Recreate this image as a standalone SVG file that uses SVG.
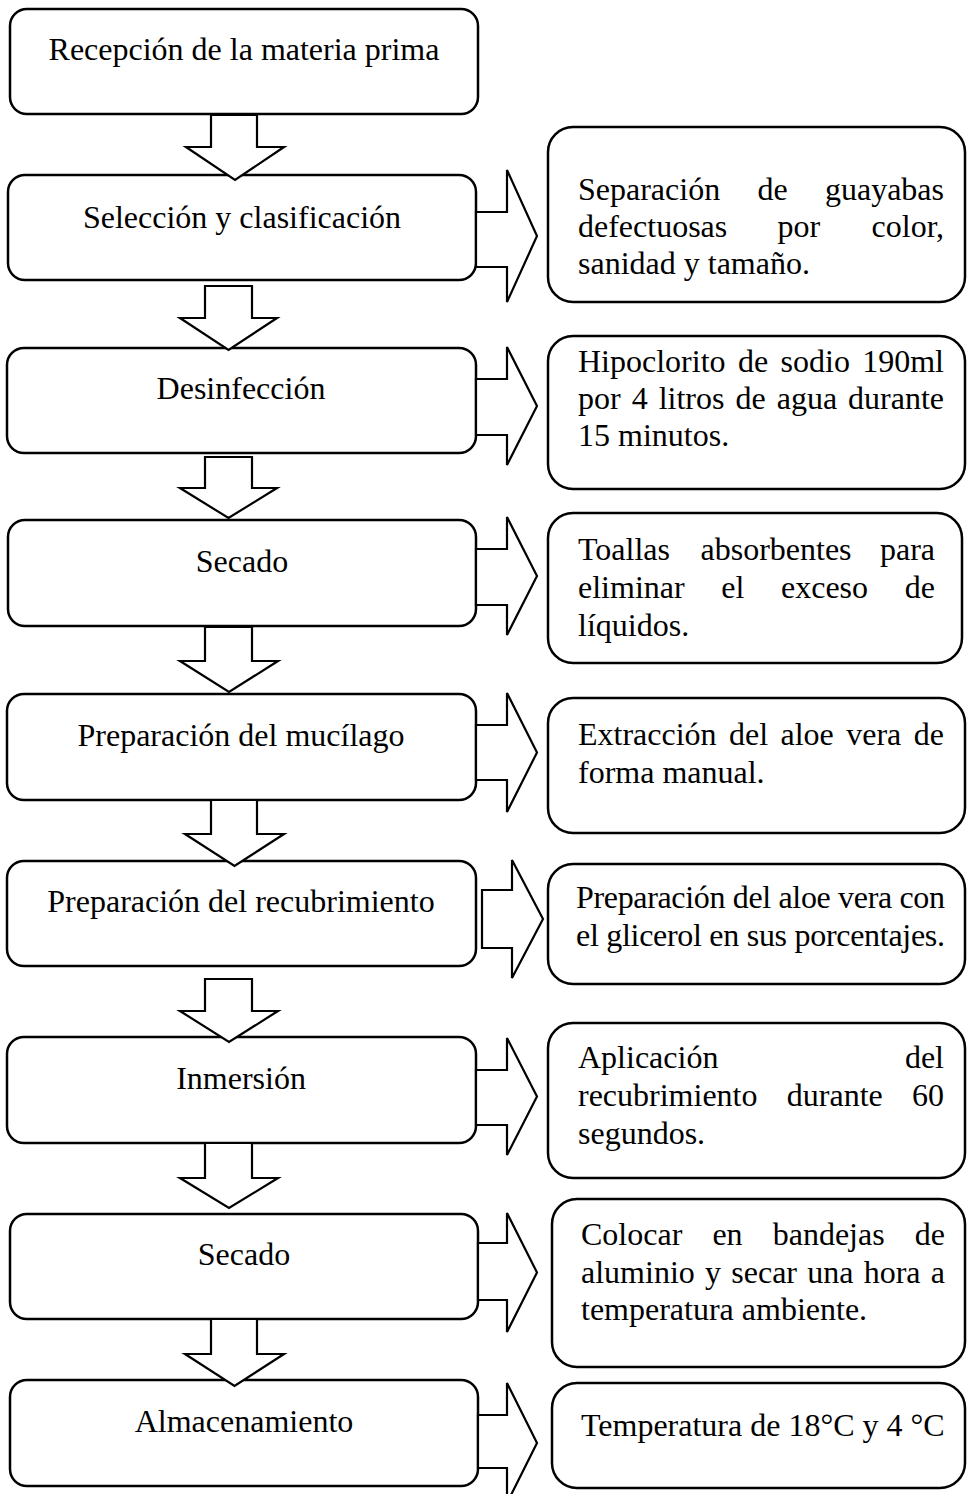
<svg xmlns="http://www.w3.org/2000/svg" width="967" height="1494" viewBox="0 0 967 1494">
<style>
.box{fill:#fff;stroke:#000;stroke-width:2.5}
.rbox{fill:#fff;stroke:#000;stroke-width:2.5}
.arr{fill:#fff;stroke:#000;stroke-width:2.2;stroke-linejoin:miter}
text{font-family:"Liberation Serif","Times New Roman",serif;font-size:32px;fill:#000}
.c{text-anchor:middle}
.e{text-anchor:end}
</style>
<rect width="967" height="1494" fill="#fff"/>
<g id="n1"><rect class="box" x="10" y="9" width="468" height="105" rx="17"/><text class="c" x="244" y="60">Recepción de la materia prima</text></g>
<g id="n2"><rect class="box" x="8" y="175" width="468" height="105" rx="17"/><text class="c" x="242" y="228">Selección y clasificación</text></g>
<g id="n3"><rect class="box" x="7" y="348" width="469" height="105" rx="17"/><text class="c" x="241" y="399">Desinfección</text></g>
<g id="n4"><rect class="box" x="8" y="520" width="468" height="106" rx="17"/><text class="c" x="242" y="572">Secado</text></g>
<g id="n5"><rect class="box" x="7" y="694" width="469" height="106" rx="17"/><text class="c" x="241" y="746">Preparación del mucílago</text></g>
<g id="n6"><rect class="box" x="7" y="861" width="469" height="105" rx="17"/><text class="c" x="241" y="912">Preparación del recubrimiento</text></g>
<g id="n7"><rect class="box" x="7" y="1037" width="469" height="106" rx="17"/><text class="c" x="241" y="1089">Inmersión</text></g>
<g id="n8"><rect class="box" x="10" y="1214" width="468" height="105" rx="17"/><text class="c" x="244" y="1265">Secado</text></g>
<g id="n9"><rect class="box" x="10" y="1380" width="468" height="106" rx="17"/><text class="c" x="244" y="1432">Almacenamiento</text></g>

<g id="d2"><rect class="rbox" x="548" y="127" width="417" height="175" rx="25"/>
<text y="200"><tspan x="578">Separación</tspan><tspan x="757.5">de</tspan><tspan class="e" x="944" text-anchor="end">guayabas</tspan></text>
<text y="237"><tspan x="578">defectuosas</tspan><tspan x="777.4">por</tspan><tspan x="944" text-anchor="end">color,</tspan></text>
<text x="578" y="274">sanidad y tamaño.</text></g>
<g id="d3"><rect class="rbox" x="548" y="336" width="417" height="153" rx="25"/>
<text y="372"><tspan x="578">Hipoclorito</tspan><tspan x="738">de</tspan><tspan x="780.6">sodio</tspan><tspan x="944" text-anchor="end">190ml</tspan></text>
<text y="409"><tspan x="578">por</tspan><tspan x="631.7">4</tspan><tspan x="658.7">litros</tspan><tspan x="735.5">de</tspan><tspan x="776.7">agua</tspan><tspan x="944" text-anchor="end">durante</tspan></text>
<text x="578" y="446">15 minutos.</text></g>
<g id="d4"><rect class="rbox" x="548" y="513" width="414" height="150" rx="25"/>
<text y="560"><tspan x="578">Toallas</tspan><tspan x="700.5">absorbentes</tspan><tspan x="935" text-anchor="end">para</tspan></text>
<text y="598"><tspan x="578">eliminar</tspan><tspan x="721.3">el</tspan><tspan x="781">exceso</tspan><tspan x="935" text-anchor="end">de</tspan></text>
<text x="578" y="636">líquidos.</text></g>
<g id="d5"><rect class="rbox" x="548" y="698" width="417" height="135" rx="25"/>
<text y="745"><tspan x="578">Extracción</tspan><tspan x="729">del</tspan><tspan x="780.5">aloe</tspan><tspan x="846.2">vera</tspan><tspan x="944" text-anchor="end">de</tspan></text>
<text x="578" y="783">forma manual.</text></g>
<g id="d6"><rect class="rbox" x="548" y="864" width="417" height="120" rx="25"/>
<text x="576" y="908" textLength="369" lengthAdjust="spacing">Preparación del aloe vera con</text>
<text x="576" y="946" textLength="369" lengthAdjust="spacing">el glicerol en sus porcentajes.</text></g>
<g id="d7"><rect class="rbox" x="548" y="1023" width="417" height="155" rx="25"/>
<text y="1068"><tspan x="578">Aplicación</tspan><tspan x="944" text-anchor="end">del</tspan></text>
<text y="1106"><tspan x="578">recubrimiento</tspan><tspan x="786.8">durante</tspan><tspan x="944" text-anchor="end">60</tspan></text>
<text x="578" y="1144">segundos.</text></g>
<g id="d8"><rect class="rbox" x="552" y="1199" width="413" height="168" rx="25"/>
<text y="1245"><tspan x="581">Colocar</tspan><tspan x="712.4">en</tspan><tspan x="772.7">bandejas</tspan><tspan x="945" text-anchor="end">de</tspan></text>
<text y="1283"><tspan x="581">aluminio</tspan><tspan x="705">y</tspan><tspan x="731.3">secar</tspan><tspan x="807.2">una</tspan><tspan x="863.7">hora</tspan><tspan x="945" text-anchor="end">a</tspan></text>
<text x="581" y="1320">temperatura ambiente.</text></g>
<g id="d9"><rect class="rbox" x="552" y="1383" width="413" height="105" rx="25"/>
<text x="581" y="1436">Temperatura de 18°C y 4 °C</text></g>

<g id="connectors">
<polygon class="arr" points="211,115 257,115 257,147 284,147 235,180 186,147 211,147"/>
<polygon class="arr" points="205,286 252,286 252,318 277,318 228.5,350 180,318 205,318"/>
<polygon class="arr" points="205,457 252,457 252,488 277,488 228.5,518 180,488 205,488"/>
<polygon class="arr" points="205,627 252,627 252,661 278,661 229,692 180,661 205,661"/>
<polygon class="arr" points="211,800 257,800 257,834 284,834 234.5,866 185,834 211,834"/>
<polygon class="arr" points="205,979 252,979 252,1011 278,1011 229,1042 180,1011 205,1011"/>
<polygon class="arr" points="205,1143 252,1143 252,1178 278,1178 229,1208 180,1178 205,1178"/>
<polygon class="arr" points="211,1319 257,1319 257,1354 284,1354 234.5,1386 185,1354 211,1354"/>
<polygon class="arr" points="476,212 507,212 507,170 537,236 507,302 507,267 476,267"/>
<polygon class="arr" points="476,379 507,379 507,347 537,406 507,465 507,435 476,435"/>
<polygon class="arr" points="476,549 507,549 507,517 537,576 507,635 507,605 476,605"/>
<polygon class="arr" points="476,725 507,725 507,693 537,752.5 507,812 507,780 476,780"/>
<polygon class="arr" points="482,890 512,890 512,860 543,919 512,978 512,948 482,948"/>
<polygon class="arr" points="476,1070 507,1070 507,1038 537,1096.5 507,1155 507,1125 476,1125"/>
<polygon class="arr" points="478,1243 507,1243 507,1213 537,1272.5 507,1332 507,1300 478,1300"/>
<polygon class="arr" points="478,1415 507,1415 507,1383 537,1443 507,1503 507,1468 478,1468"/>
</g>
</svg>
